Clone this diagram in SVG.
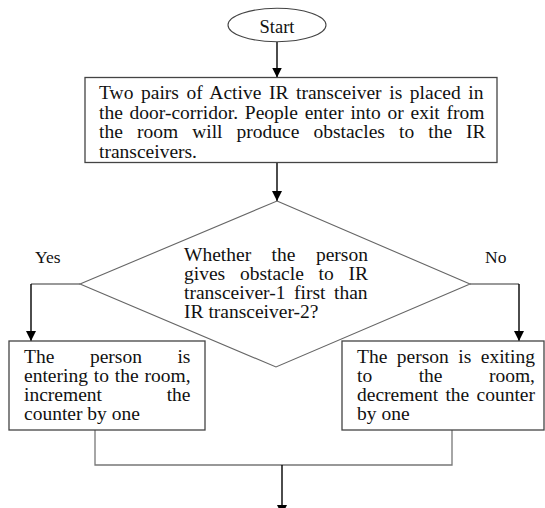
<svg xmlns="http://www.w3.org/2000/svg" width="545" height="508" viewBox="0 0 545 508">
<defs>
<marker id="ah" markerWidth="10" markerHeight="10" refX="10" refY="5" orient="auto" markerUnits="userSpaceOnUse">
<path d="M0,0 L10,5 L0,10 z" fill="#000"/>
</marker>
<style>
.t{font-family:"Liberation Serif","Times New Roman",serif;font-size:19.5px;fill:#111;}
.lbl{font-family:"Liberation Serif","Times New Roman",serif;font-size:17.5px;fill:#111;}
.box{fill:#fff;stroke:#444;stroke-width:1.3;}
.dia{fill:#fff;stroke:#666;stroke-width:1.1;}
.arr{stroke:#000;stroke-width:1.4;fill:none;marker-end:url(#ah);}
.ln{stroke:#777;stroke-width:1.3;fill:none;}
</style>
</defs>
<rect width="545" height="508" fill="#fff"/>
<g id="connectors">
<line class="arr" x1="277" y1="42" x2="277" y2="77.5"/>
<line class="arr" x1="277" y1="162" x2="277" y2="201"/>
<polyline class="ln" points="80,284 31,284"/>
<line class="arr" x1="31" y1="284" x2="31" y2="341"/>
<polyline class="ln" points="470,284 519,284"/>
<line class="arr" x1="519" y1="284" x2="519" y2="341"/>
<polyline class="ln" points="95,430 95,465 452,465 452,430"/>
<line class="arr" x1="282" y1="465" x2="282" y2="515"/>
</g>
<g id="start">
<ellipse cx="277" cy="25" rx="49" ry="16.7" fill="#fff" stroke="#444" stroke-width="1.1"/>
<text class="t" x="277" y="33" text-anchor="middle" style="font-size:18.5px">Start</text>
</g>
<g id="setup">
<rect class="box" x="85" y="77.5" width="412" height="85"/>
<text class="t" x="99" y="99" style="word-spacing:2.75px">Two pairs of Active IR transceiver is placed in</text>
<text class="t" x="99" y="118.5" style="word-spacing:1.9px">the door-corridor. People enter into or exit from</text>
<text class="t" x="99" y="138" style="word-spacing:9.2px">the room will produce obstacles to the IR</text>
<text class="t" x="99" y="157.5">transceivers.</text>
</g>
<g id="decision">
<polygon class="dia" points="277,201 470,284 276,367 80,284"/>
<text class="t" x="184" y="261" style="word-spacing:15.6px">Whether the person</text>
<text class="t" x="184" y="280" style="word-spacing:9.9px">gives obstacle to IR</text>
<text class="t" x="184" y="299" style="word-spacing:3.75px">transceiver-1 first than</text>
<text class="t" x="184" y="318">IR transceiver-2?</text>
</g>
<g id="label-yes"><text class="lbl" x="35" y="263">Yes</text></g>
<g id="label-no"><text class="lbl" x="485" y="263">No</text></g>
<g id="entering">
<rect class="box" x="9" y="341" width="196" height="89"/>
<text class="t" x="24" y="363" style="word-spacing:30.7px">The person is</text>
<text class="t" x="24" y="382" style="word-spacing:1px">entering to the room,</text>
<text class="t" x="24" y="401" style="word-spacing:59.8px">increment the</text>
<text class="t" x="24" y="420">counter by one</text>
</g>
<g id="exiting">
<rect class="box" x="342" y="341" width="202" height="89"/>
<text class="t" x="357" y="363" style="word-spacing:4.6px">The person is exiting</text>
<text class="t" x="357" y="382" style="word-spacing:41.6px">to the room,</text>
<text class="t" x="357" y="401" style="word-spacing:2.35px">decrement the counter</text>
<text class="t" x="357" y="420">by one</text>
</g>
</svg>
